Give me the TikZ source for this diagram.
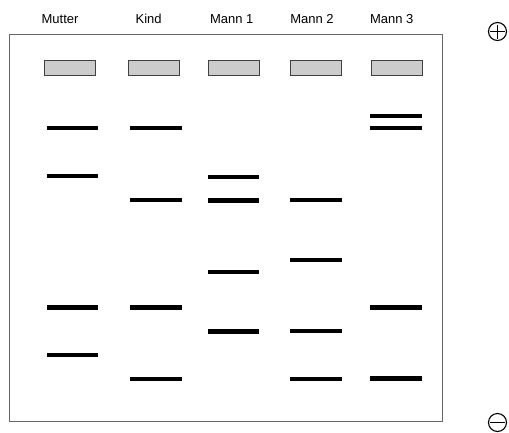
\documentclass[tikz,border=0pt]{standalone}
\usepackage{fontspec}
\setmainfont{Liberation Sans}
\usetikzlibrary{positioning,calc}
\definecolor{GelFrame}{gray}{0.40}
\definecolor{WellFill}{gray}{0.80}
\definecolor{WellEdge}{gray}{0.25}

\begin{document}
\begin{tikzpicture}[x=1pt,y=-1pt,
  lane/.style={font=\fontsize{13}{15}\selectfont,inner sep=0pt,anchor=base},
  well/.style={draw=WellEdge,fill=WellFill,line width=1pt,minimum width=51pt,minimum height=15pt,inner sep=0pt},
  band/.style={fill=black,minimum width=51.5pt,minimum height=4.8pt,inner sep=0pt},
  pole/.style={draw=black,circle,line width=1.1pt,minimum size=18pt,inner sep=0pt}]
  \useasboundingbox (0,0) rectangle (509,432);
  % gel
  \draw[GelFrame,line width=1.3pt] (9.5,34.3) rectangle (442.7,421.7);
  % lanes: name / label x / well x / band x / band positions
  \foreach \lname/\lx/\wx/\bx/\ys in {
      Mutter/60/70/72.5/{128,176,307.5,355},
      Kind/148.7/154/156/{128,200,307.5,379},
      Mann 1/231.7/233.5/233.5/{177,200.7,272,331.5},
      Mann 2/312/315.5/316/{200,260,331,379},
      Mann 3/391.7/396.5/396/{116,128,307.5,378.5}}{
    \node[lane] (label-\lx) at (\lx,23.5) {\lname};
    \node[well] (well-\wx) at (\wx,67.5) {};
    \foreach \y [count=\i] in \ys
      \node[band] (band-\wx-\i) at (\bx,\y) {};
  }
  % electrodes
  \node[pole] (plus) at (497.5,31.5) {};
  \draw[line width=1.1pt] ($(plus.center)+(-7.5,0)$) -- ($(plus.center)+(7.5,0)$);
  \draw[line width=1.1pt] ($(plus.center)+(0,-7)$) -- ($(plus.center)+(0,7)$);
  \node[pole] (minus) at (497.5,422.5) {};
  \draw[line width=1.1pt] ($(minus.center)+(-7.5,0)$) -- ($(minus.center)+(7.5,0)$);
\end{tikzpicture}
\end{document}
